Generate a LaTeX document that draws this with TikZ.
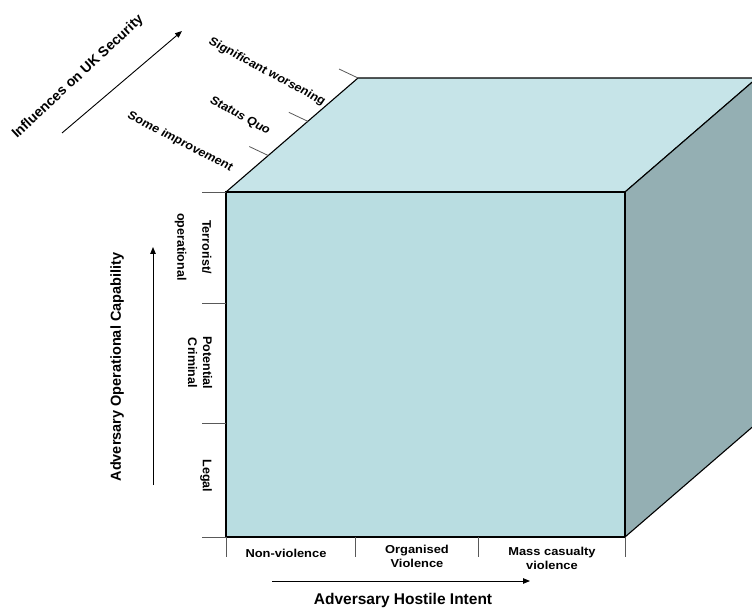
\documentclass[tikz,border=0pt]{standalone}
\usepackage{fontspec}
\setmainfont{Liberation Sans}
\usetikzlibrary{arrows.meta,calc}
\definecolor{frontc}{HTML}{B9DDE1}
\definecolor{topc}{HTML}{C6E4E8}
\definecolor{sidec}{HTML}{94AFB3}
\tikzset{
  edge/.style={draw=black, line width=1.1pt, line join=miter},
  tickline/.style={draw=black!65, line width=0.8pt},
  axis/.style={draw=black, line width=0.9pt, -{Triangle[length=7pt,width=5.5pt]}},
  small/.style={font=\bfseries\fontsize{11.5}{14}\selectfont, align=center, inner sep=0pt, xscale=1.12},
  side/.style={font=\bfseries\fontsize{12.5}{#1}\selectfont, align=center, inner sep=0pt, rotate=-90},
  big/.style={font=\bfseries\fontsize{14.5}{16}\selectfont, inner sep=0pt},
}
\begin{document}
\begin{tikzpicture}[x=1pt,y=-1pt]
\useasboundingbox (0,0) rectangle (752,612);
\clip (0,0) rectangle (752,612);
% cube corners
\coordinate (FTL) at (226,192);
\coordinate (FTR) at (625,192);
\coordinate (FBR) at (625,537);
\coordinate (FBL) at (226,537);
\coordinate (BTL) at (358,78);
\coordinate (BTR) at (757,78);
\coordinate (BBR) at (757,423);
% faces
\filldraw[edge, fill=topc] (FTL) -- (BTL) -- (BTR) -- (FTR) -- cycle;
\filldraw[edge, fill=sidec] (FTR) -- (BTR) -- (BBR) -- (FBR) -- cycle;
\filldraw[edge, fill=frontc] (FTL) -- (FTR) -- (FBR) -- (FBL) -- cycle;
% left ticks
\foreach \yy/\nm in {192/a,303/b,423/c,537/d}{
  \coordinate (L\nm1) at (202,\yy);
  \coordinate (L\nm2) at (226,\yy);
  \draw[tickline] (L\nm1) -- (L\nm2);
}
% bottom ticks
\foreach \xx/\nm in {226/a,355/b,478/c,625/d}{
  \coordinate (B\nm1) at (\xx,537);
  \coordinate (B\nm2) at (\xx,557);
  \draw[tickline] (B\nm1) -- (B\nm2);
}
% oblique ticks
\coordinate (P1) at ($(FTL)!0.32!(BTL)$);
\coordinate (P2) at ($(FTL)!0.62!(BTL)$);
\coordinate (P3) at (BTL);
\foreach \p in {P1,P2,P3}{
  \draw[tickline] (\p) -- ++(-19,-9);
}
% oblique labels
\node[small, rotate=-31] (sw) at (267,72) {Significant worsening};
\node[small, rotate=-32] (sq) at (240,116) {Status Quo};
\node[small, rotate=-30] (si) at (180,142) {Some improvement};
\coordinate (ia1) at (62,133);
\coordinate (ia2) at (182,31);
\draw[axis] (ia1) -- (ia2);
\node[big, font=\bfseries\fontsize{14}{16}\selectfont, rotate=43] (infl) at (78,77) {Influences on UK Security};
% left labels
\node[side=25] (terr) at (193,247) {Terrorist/\\operational};
\node[side=15] (pot) at (200,363) {Potential\\Criminal};
\node[side=15] (legal) at (206,476) {Legal};
\coordinate (la1) at (153,485);
\coordinate (la2) at (153,247);
\draw[axis] (la1) -- (la2);
\node[big, rotate=90] (aoc) at (117,367) {Adversary Operational Capability};
% bottom labels
\node[small] (nv) at (286,553) {Non-violence};
\node[small] (ov) at (417,556) {Organised\\Violence};
\node[small] (mc) at (552,558) {Mass casualty\\violence};
\coordinate (ba1) at (272,581);
\coordinate (ba2) at (530,581);
\draw[axis] (ba1) -- (ba2);
\node[big, font=\bfseries\fontsize{15.5}{17}\selectfont] (ahi) at (403,600) {Adversary Hostile Intent};
\end{tikzpicture}
\end{document}
